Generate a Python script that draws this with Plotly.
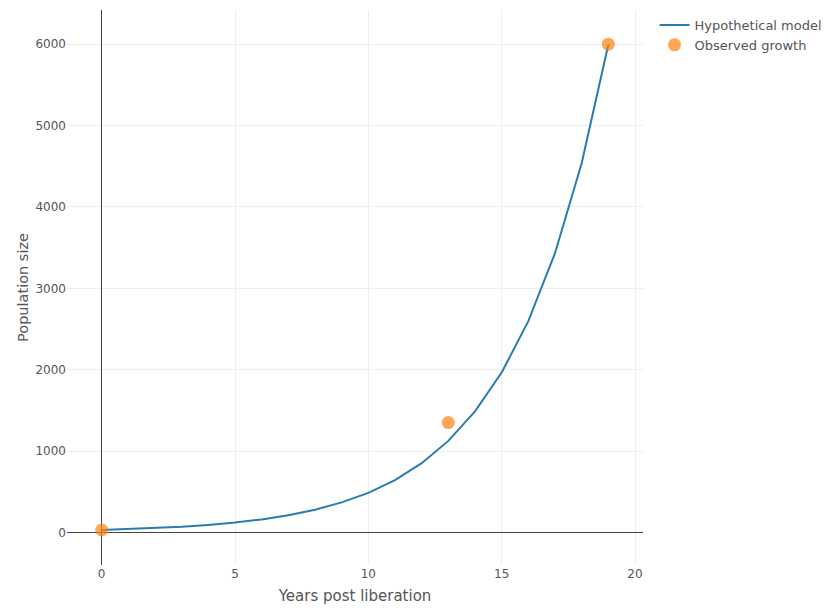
import plotly.graph_objects as go

model_years = list(range(20))
model_pop = [30, 40, 52, 69, 92, 121, 160, 211, 279, 369, 487, 644, 851, 1125, 1487, 1965, 2597, 3432, 4536, 5995]

obs_years = [0, 13, 19]
obs_pop = [30, 1350, 6000]

fig = go.Figure()
fig.add_trace(go.Scatter(x=model_years, y=model_pop, mode="lines", name="Hypothetical model",
                         line=dict(color="#2a7bb0", width=2)))
fig.add_trace(go.Scatter(x=obs_years, y=obs_pop, mode="markers", name="Observed growth",
                         marker=dict(color="#ff7f0e", size=13, opacity=0.7)))

fig.update_layout(
    width=822, height=604,
    template="none",
    paper_bgcolor="white", plot_bgcolor="white",
    font=dict(family="DejaVu Sans, sans-serif", size=12, color="#555"),
    margin=dict(l=59, r=187, t=2, b=47),
    legend=dict(x=1.02, y=1, xanchor="left", yanchor="top", font=dict(size=13)),
    xaxis=dict(title=dict(text="Years post liberation", font=dict(size=15), standoff=10),
               range=[-1.3, 20.3], tickvals=[0, 5, 10, 15, 20],
               showgrid=True, gridcolor="#eee", gridwidth=1,
               zeroline=True, zerolinecolor="#444", zerolinewidth=1,
               showline=False, ticks=""),
    yaxis=dict(title=dict(text="Population size", font=dict(size=14.5)),
               range=[-400, 6420], tickvals=[0, 1000, 2000, 3000, 4000, 5000, 6000],
               showgrid=True, gridcolor="#eee", gridwidth=1,
               zeroline=True, zerolinecolor="#444", zerolinewidth=1,
               showline=False, ticks=""),
)

fig.write_html("out.html")
